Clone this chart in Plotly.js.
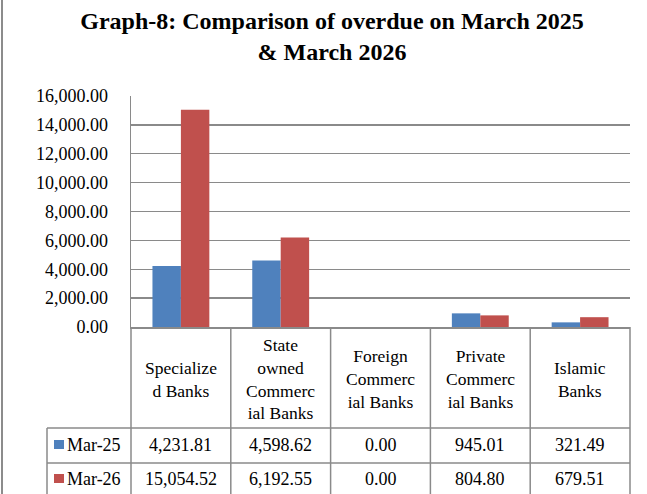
<!DOCTYPE html>
<html>
<head>
<meta charset="utf-8">
<script src="https://cdn.plot.ly/plotly-3.0.1.min.js"></script>
<style>html,body{margin:0;padding:0;background:#fff;}#chart{width:647px;height:494px;}</style>
</head>
<body>
<div id="chart"></div>
<script>
// ---- data ----
var categories = ["Specialize<br>d Banks", "State<br>owned<br>Commerc<br>ial Banks", "Foreign<br>Commerc<br>ial Banks", "Private<br>Commerc<br>ial Banks", "Islamic<br>Banks"];
var seriesNames = ["Mar-25", "Mar-26"];
var mar25 = [4231.81, 4598.62, 0.00, 945.01, 321.49];
var mar26 = [15054.52, 6192.55, 0.00, 804.80, 679.51];
var yTickVals = [0, 2000, 4000, 6000, 8000, 10000, 12000, 14000, 16000];

// ---- styling / layout helpers ----
var W = 647, H = 494;
var L = 131, R = 630, T = 96, B = 327;
var colors = ["#4F81BD", "#C0504D"];
var gridCol = "#8a8a8a";
var FONT = "'Liberation Serif', 'Times New Roman', serif";
function px(x) { return (x - L) / (R - L); }
function py(y) { return (B - y) / (B - T); }
var fmt = function (v) { return v.toLocaleString("en-US", {minimumFractionDigits: 2, maximumFractionDigits: 2}); };

var traces = [
  {type: "bar", name: seriesNames[0], x: categories, y: mar25, marker: {color: colors[0]}, hoverinfo: "none"},
  {type: "bar", name: seriesNames[1], x: categories, y: mar26, marker: {color: colors[1]}, hoverinfo: "none"}
];

var shapes = [];
var annotations = [];
var lineStyle = {color: gridCol, width: 1.5};
// table vertical lines (column boundaries)
for (var i = 0; i <= categories.length; i++) {
  shapes.push({type: "line", xref: "paper", yref: "paper", x0: i / categories.length, x1: i / categories.length, y0: 0, y1: py(H + 5), line: lineStyle});
}
// table row separators
[428, 463].forEach(function (y) {
  shapes.push({type: "line", xref: "paper", yref: "paper", x0: px(47), x1: 1, y0: py(y), y1: py(y), line: lineStyle});
});
// legend column left border
shapes.push({type: "line", xref: "paper", yref: "paper", x0: px(47), x1: px(47), y0: py(428), y1: py(H + 5), line: lineStyle});
// outer frame left edge
shapes.push({type: "line", xref: "paper", yref: "paper", x0: px(2), x1: px(2), y0: py(-5), y1: py(H + 5), line: {color: "#8c8c8c", width: 2}});

// header labels
categories.forEach(function (c, i) {
  annotations.push({xref: "x", yref: "paper", x: c, y: py(379), text: c, showarrow: false, xanchor: "center", yanchor: "middle", align: "center", font: {family: FONT, size: 17.5, color: "#000"}});
});
// value rows
var rowsY = [445, 479];
[mar25, mar26].forEach(function (arr, r) {
  arr.forEach(function (v, i) {
    annotations.push({xref: "x", yref: "paper", x: categories[i], y: py(rowsY[r]), text: fmt(v), showarrow: false, xanchor: "center", yanchor: "middle", font: {family: FONT, size: 18, color: "#000"}});
  });
  // legend key square
  shapes.push({type: "rect", xref: "paper", yref: "paper", x0: px(54), x1: px(64), y0: py(rowsY[r] + 4), y1: py(rowsY[r] - 5), fillcolor: colors[r], line: {width: 0}});
  annotations.push({xref: "paper", yref: "paper", x: px(65), y: py(rowsY[r]), text: seriesNames[r], showarrow: false, xanchor: "left", yanchor: "middle", font: {family: FONT, size: 18, color: "#000"}});
});

var layout = {
  width: W, height: H,
  margin: {l: L, r: W - R, t: T, b: H - B, pad: 0},
  paper_bgcolor: "#fff", plot_bgcolor: "#fff",
  showlegend: false,
  barmode: "group", bargap: 0.43, bargroupgap: 0,
  font: {family: FONT, color: "#000"},
  title: {
    text: "<b>Graph-8: Comparison of overdue on March 2025<br>& March 2026</b>",
    font: {family: FONT, size: 24, color: "#000"},
    x: 332 / W, xanchor: "center", xref: "container",
    y: 1 - 29 / H, yanchor: "middle", yref: "container"
  },
  xaxis: {type: "category", showticklabels: false, showgrid: false, zeroline: false, showline: true, linecolor: gridCol, linewidth: 1.5, ticks: "", range: [-0.5, categories.length - 0.5], fixedrange: true},
  yaxis: {range: [0, 16000], tickvals: yTickVals, ticktext: yTickVals.map(fmt), showgrid: true, gridcolor: gridCol, gridwidth: 1.3, zeroline: false, showline: true, linecolor: gridCol, linewidth: 1.5, ticks: "outside", ticklen: 18, tickcolor: "rgba(0,0,0,0)", tickfont: {family: FONT, size: 18, color: "#000"}, fixedrange: true},
  shapes: shapes,
  annotations: annotations
};

Plotly.newPlot("chart", traces, layout, {displayModeBar: false, staticPlot: true});
</script>
</body>
</html>
